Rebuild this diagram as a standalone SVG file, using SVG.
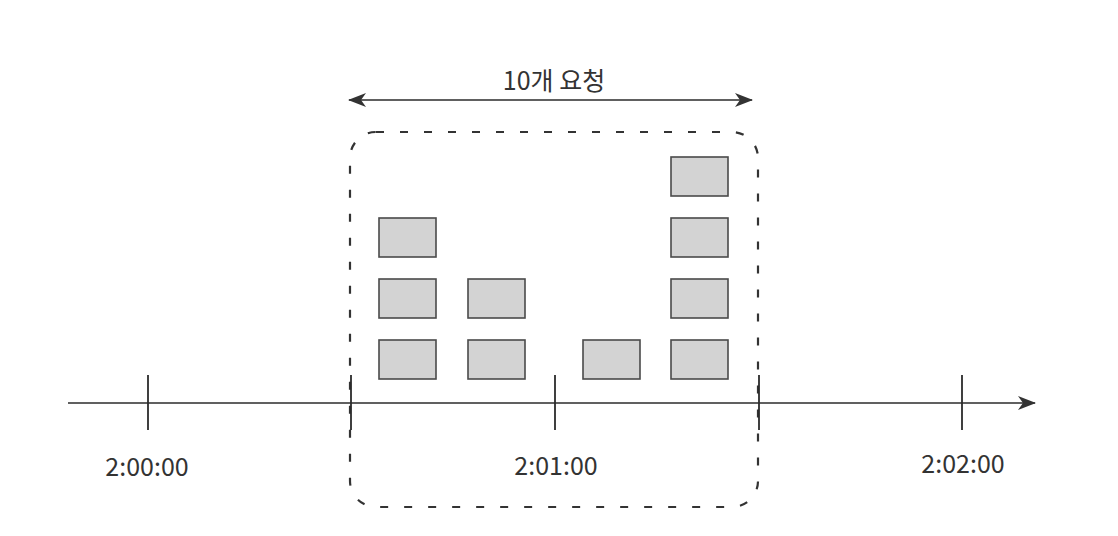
<svg xmlns="http://www.w3.org/2000/svg" width="1118" height="536" viewBox="0 0 1118 536">
<style>
.line{stroke:#2b2b2b;stroke-width:1.6;fill:none}
.tick{stroke:#2b2b2b;stroke-width:1.8}
.req{fill:#d3d3d3;stroke:#4a4a4a;stroke-width:1.6}
.lbl{font-family:"Noto Sans CJK KR","Noto Sans",sans-serif;font-size:25px;fill:#333;text-anchor:middle}
.win{fill:none;stroke:#333;stroke-width:2.2;stroke-dasharray:8 16}
</style>
<defs>
<marker id="ah" viewBox="0 0 18 14" refX="17" refY="7" markerWidth="18" markerHeight="14" markerUnits="userSpaceOnUse" orient="auto-start-reverse">
<path d="M0,0 L18,7 L0,14 L5,7 Z" fill="#333"/>
</marker>
</defs>
<rect width="1118" height="536" fill="#fff"/>
<g id="connectors">
<line class="line" x1="68" y1="403" x2="1035" y2="403" marker-end="url(#ah)"/>
<line class="line" x1="349" y1="100" x2="752" y2="100" marker-start="url(#ah)" marker-end="url(#ah)"/>
</g>
<g id="window">
<rect class="win" x="350" y="132" width="408" height="375" rx="26" ry="26"/>
</g>
<g id="ticks">
<line class="tick" x1="148" y1="375" x2="148" y2="430"/>
<line class="tick" x1="351" y1="375" x2="351" y2="430"/>
<line class="tick" x1="555" y1="375" x2="555" y2="430"/>
<line class="tick" x1="759" y1="375" x2="759" y2="430"/>
<line class="tick" x1="962" y1="375" x2="962" y2="430"/>
</g>
<g id="requests">
<rect class="req" x="379" y="218" width="57" height="39"/>
<rect class="req" x="379" y="279" width="57" height="39"/>
<rect class="req" x="379" y="340" width="57" height="39"/>
<rect class="req" x="468" y="279" width="57" height="39"/>
<rect class="req" x="468" y="340" width="57" height="39"/>
<rect class="req" x="583" y="340" width="57" height="39"/>
<rect class="req" x="671" y="157" width="57" height="39"/>
<rect class="req" x="671" y="218" width="57" height="39"/>
<rect class="req" x="671" y="279" width="57" height="39"/>
<rect class="req" x="671" y="340" width="57" height="39"/>
</g>
<g id="labels">
<text class="lbl" x="554" y="90">10개 요청</text>
<text class="lbl" x="147" y="476">2:00:00</text>
<text class="lbl" x="556" y="475">2:01:00</text>
<text class="lbl" x="963" y="473">2:02:00</text>
</g>
</svg>
